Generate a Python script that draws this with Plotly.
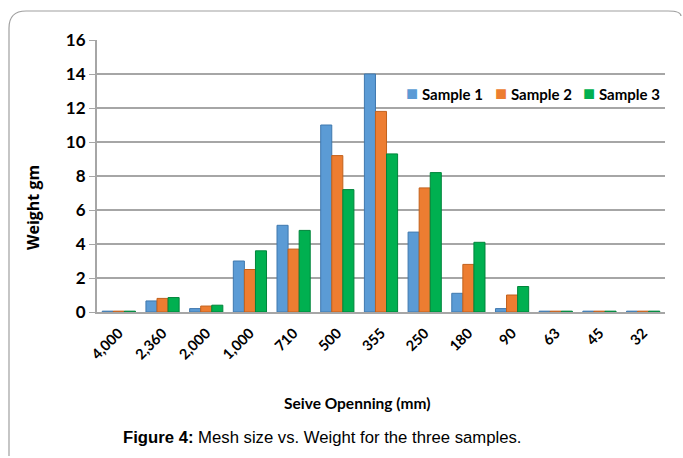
import plotly.graph_objects as go

categories = ["4,000", "2,360", "2,000", "1,000", "710", "500", "355", "250", "180", "90", "63", "45", "32"]
sample1 = [0.05, 0.65, 0.2, 3.0, 5.1, 11.0, 14.0, 4.7, 1.1, 0.2, 0.05, 0.05, 0.05]
sample2 = [0.05, 0.8, 0.35, 2.5, 3.7, 9.2, 11.8, 7.3, 2.8, 1.0, 0.05, 0.05, 0.05]
sample3 = [0.05, 0.85, 0.4, 3.6, 4.8, 7.2, 9.3, 8.2, 4.1, 1.5, 0.05, 0.05, 0.05]
series_names = ["Sample 1", "Sample 2", "Sample 3"]
colors = ["#5B9BD5", "#ED7D31", "#00B050"]
edges = ["#3F78AE", "#C2611C", "#00853B"]

W, H = 683, 458
L, R, T, B = 97, 18, 40, 146
PW, PH = W - L - R, H - T - B


def px_x(x):
    return (x - L) / PW


def px_y(y):
    return 1 - (y - T) / PH


fig = go.Figure()
for name, vals, c, e in zip(series_names, [sample1, sample2, sample3], colors, edges):
    fig.add_trace(go.Bar(x=categories, y=vals, name=name, showlegend=False,
                         marker=dict(color=c, line=dict(color=e, width=1))))

fig.update_layout(
    width=W, height=H,
    margin=dict(l=L, r=R, t=T, b=B),
    paper_bgcolor="white", plot_bgcolor="white",
    barmode="group", bargap=0.24, bargroupgap=0.0,
    font=dict(family="Lato, Open Sans, sans-serif", color="black"),
    xaxis=dict(showgrid=False, showline=True, linecolor="#A6A6A6", linewidth=2,
               tickangle=-45, tickfont=dict(size=14.5, family="Lato", weight="bold"),
               ticks="", ticklabelstandoff=5),
    yaxis=dict(range=[0, 16], dtick=2, showgrid=True, gridcolor="#A6A6A6", gridwidth=2,
               showline=True, linecolor="#A6A6A6", linewidth=2,
               ticks="outside", ticklen=6, tickcolor="#A6A6A6",
               tickfont=dict(size=17, family="Lato", weight="bold"), zeroline=False),
)

# custom legend
legend_x = [404, 493, 581]
for name, c, lx in zip(series_names, colors, legend_x):
    fig.add_annotation(text='<span style="color:%s;font-size:20px">■</span> <b>%s</b>' % (c, name),
                       xref="paper", yref="paper", x=px_x(lx), y=px_y(92),
                       xanchor="left", yanchor="middle", showarrow=False,
                       font=dict(size=15, family="Lato"))

# axis titles and caption
fig.add_annotation(text="<b>Seive Openning (mm)</b>", xref="paper", yref="paper",
                   x=px_x(357), y=px_y(403),
                   showarrow=False, font=dict(size=15.5, family="Lato"), yanchor="middle")
fig.add_annotation(text="<b>Weight gm</b>", xref="paper", yref="paper",
                   x=px_x(33), y=px_y(208),
                   showarrow=False, textangle=-90, font=dict(size=16, family="Open Sans"),
                   xanchor="center", yanchor="middle")
fig.add_annotation(text="<b>Figure 4:</b> Mesh size vs. Weight for the three samples.",
                   xref="paper", yref="paper",
                   x=px_x(322), y=px_y(437),
                   showarrow=False, font=dict(size=16.7, family="Liberation Sans, Arial"),
                   yanchor="middle")

# rounded frame (top and left edges)
fig.add_shape(type="path", xref="paper", yref="paper", layer="below",
              path="M {x0},{y0} L {x0},{y1} Q {x0},{y2} {x3},{y2} L {x4},{y2} Q {x5},{y2} {x5},{y6}".format(
                  x0=px_x(9), y0=px_y(H - 2), y1=px_y(28), y2=px_y(11),
                  x3=px_x(26), x4=px_x(668), x5=px_x(681), y6=px_y(16)),
              line=dict(color="#A0A0A0", width=1.2))

fig.write_html("out.html", config={"displayModeBar": False},
               post_script="document.body.style.margin='0';document.body.style.overflow='hidden';")
